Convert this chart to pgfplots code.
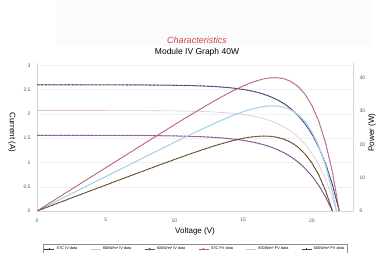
\documentclass[border=0pt]{standalone}
\usepackage{fontspec}
\setmainfont{Liberation Sans}
\usepackage{pgfplots}
\usepackage{pgfplotstable}
\pgfplotsset{compat=1.18}

\definecolor{stciv}{HTML}{2E3060}
\definecolor{eightiv}{HTML}{E6BFCD}
\definecolor{sixiv}{HTML}{74407F}
\definecolor{stcpv}{HTML}{B0567C}
\definecolor{eightpv}{HTML}{A8D3E8}
\definecolor{sixpv}{HTML}{5A3818}
\definecolor{tickgray}{HTML}{555555}
\definecolor{framegray}{HTML}{D4D4D4}
\definecolor{titlered}{HTML}{D0404F}

\pgfplotstableread{
V I P
0 2.600 0
1 2.600 2.60
2 2.600 5.20
3 2.600 7.80
4 2.599 10.40
5 2.599 13.00
6 2.599 15.59
7 2.598 18.19
8 2.597 20.78
9 2.594 23.35
10 2.591 25.91
11 2.586 28.45
12 2.577 30.92
12.5 2.571 32.14
13 2.563 33.32
13.5 2.553 34.47
14 2.541 35.57
14.5 2.525 36.61
15 2.505 37.58
15.5 2.480 38.44
16 2.448 39.17
16.5 2.407 39.72
17 2.356 40.05
17.5 2.290 40.08
18 2.208 39.74
18.5 2.103 38.91
19 1.970 37.43
19.5 1.803 35.16
20 1.590 31.80
20.5 1.321 27.08
21 0.979 20.56
21.5 0.547 11.76
22 0 0
}\stc

\pgfplotstableread{
V I P
0 2.070 0
1 2.070 2.07
2 2.070 4.14
3 2.070 6.21
4 2.070 8.28
5 2.070 10.35
6 2.069 12.41
7 2.068 14.48
8 2.067 16.54
9 2.065 18.59
10 2.062 20.62
11 2.058 22.64
12 2.051 24.61
12.5 2.045 25.56
13 2.039 26.51
13.5 2.030 27.41
14 2.020 28.28
14.5 2.006 29.09
15 1.989 29.84
15.5 1.967 30.49
16 1.939 31.02
16.5 1.904 31.42
17 1.859 31.60
17.5 1.803 31.55
18 1.731 31.16
18.5 1.640 30.34
19 1.524 28.96
19.5 1.378 26.87
20 1.191 23.82
20.5 0.955 19.58
21 0.656 13.78
21.5 0.276 5.93
21.8 0 0
}\eight

\pgfplotstableread{
V I P
0 1.560 0
1 1.560 1.56
2 1.560 3.12
3 1.560 4.68
4 1.559 6.24
5 1.558 7.79
6 1.558 9.35
7 1.556 10.89
8 1.554 12.43
9 1.551 13.96
10 1.547 15.47
11 1.540 16.94
12 1.530 18.36
12.5 1.523 19.04
13 1.515 19.70
13.5 1.504 20.30
14 1.491 20.87
14.5 1.476 21.40
15 1.456 21.84
15.5 1.432 22.20
16 1.402 22.43
16.5 1.366 22.54
17 1.321 22.46
17.5 1.265 22.14
18 1.197 21.55
18.5 1.113 20.59
19 1.010 19.19
19.5 0.882 17.20
20 0.725 14.50
20.5 0.532 10.91
21 0.293 6.15
21.5 0 0
}\six

\pgfplotsset{
  beaded/.style={line width=0.5pt, postaction={draw, line width=1.2pt, dash pattern=on 0.45pt off 0.9pt}},
  base/.style={
    scale only axis, width=316pt, height=148pt,
    at={(37pt,42pt)}, anchor=south west,
    xmin=0, xmax=23,
    /pgf/number format/assume math mode=true,
    ticklabel style={font=\fontsize{5}{6}\selectfont, text=tickgray},
    major tick length=0pt,
    axis line style={framegray, line width=0.5pt},
    label style={font=\fontsize{8}{9}\selectfont},
  },
}

\begin{document}
\begin{tikzpicture}
\fill[black!1.5] (57pt,207pt) rectangle (372pt,253pt);
\path[use as bounding box] (0,0) rectangle (382pt,253pt);
\node[font=\fontsize{9}{10}\selectfont\itshape, text=titlered] at (197pt,213pt) {Characteristics};
\node[font=\fontsize{8.5}{10}\selectfont] at (197pt,201pt) {Module IV Graph 40W};

\begin{axis}[base,
  ymin=0, ymax=3.05,
  ytick={0,0.5,1,1.5,2,2.5,3},
  yticklabels={0,0.5,1,1.5,2,2.5,3},
  xtick={0,5,10,15,20},
  xticklabels={0,5,10,15,20},
  axis y line*=left, axis x line*=bottom,
  xticklabel style={yshift=-4pt},
  yticklabel style={xshift=-3pt},
  ymajorgrids, grid style={black!6, line width=0.4pt},
  xlabel={Voltage (V)},
  ylabel={Current (A)},
  xlabel style={at={(axis description cs:0.5,-0.14)}, anchor=center},
  ylabel style={at={(axis description cs:-0.079,0.53)}, anchor=center, rotate=180},
  legend columns=6,
  legend style={at={(0.5,-0.257)}, anchor=center, draw=black!45, line width=0.3pt,
    font=\fontsize{3.8}{4.2}\selectfont, inner sep=0.8pt, row sep=0pt,
    /tikz/every even column/.append style={column sep=11pt}},
  legend image code/.code={\draw[#1] (0pt,0pt) -- (10pt,0pt); \path[#1,only marks] plot coordinates {(5pt,0pt)};},
]
\addplot[sixiv, beaded, mark=none, forget plot] table[x=V, y=I] {\six};
\addlegendimage{stciv, line width=0.5pt, mark=+, mark size=1pt}
\addlegendentry{STC IV data}
\addlegendimage{eightiv, line width=0.5pt, mark=-, mark size=1pt}
\addlegendentry{800W/m² IV data}
\addlegendimage{sixiv, line width=0.5pt, mark=diamond, mark size=1pt}
\addlegendentry{600W/m² IV data}
\addlegendimage{stcpv, line width=0.5pt, mark=x, mark size=1pt}
\addlegendentry{STC PV data}
\addlegendimage{eightpv, line width=0.5pt, mark=-, mark size=1pt}
\addlegendentry{800W/m² PV data}
\addlegendimage{sixpv, line width=0.5pt, mark=+, mark size=1pt}
\addlegendentry{600W/m² PV data}
\addplot[eightiv, line width=0.6pt, mark=none, forget plot] table[x=V, y=I] {\eight};
\addplot[stciv, beaded, mark=none, forget plot] table[x=V, y=I] {\stc};
\end{axis}

\begin{axis}[base,
  ymin=0, ymax=44.5,
  ytick={0,10,20,30,40},
  yticklabels={0,10,20,30,40},
  axis y line*=right, axis x line=none,
  yticklabel style={xshift=3pt},
  ylabel={Power (W)},
  ylabel style={at={(axis description cs:1.06,0.53)}, anchor=center, rotate=0},
]
\addplot[eightpv, line width=1.1pt, mark=none] table[x=V, y=P] {\eight};
\addplot[sixpv, beaded, mark=none] table[x=V, y=P] {\six};
\addplot[stcpv, beaded, mark=none] table[x=V, y=P] {\stc};
\end{axis}
\end{tikzpicture}
\end{document}
